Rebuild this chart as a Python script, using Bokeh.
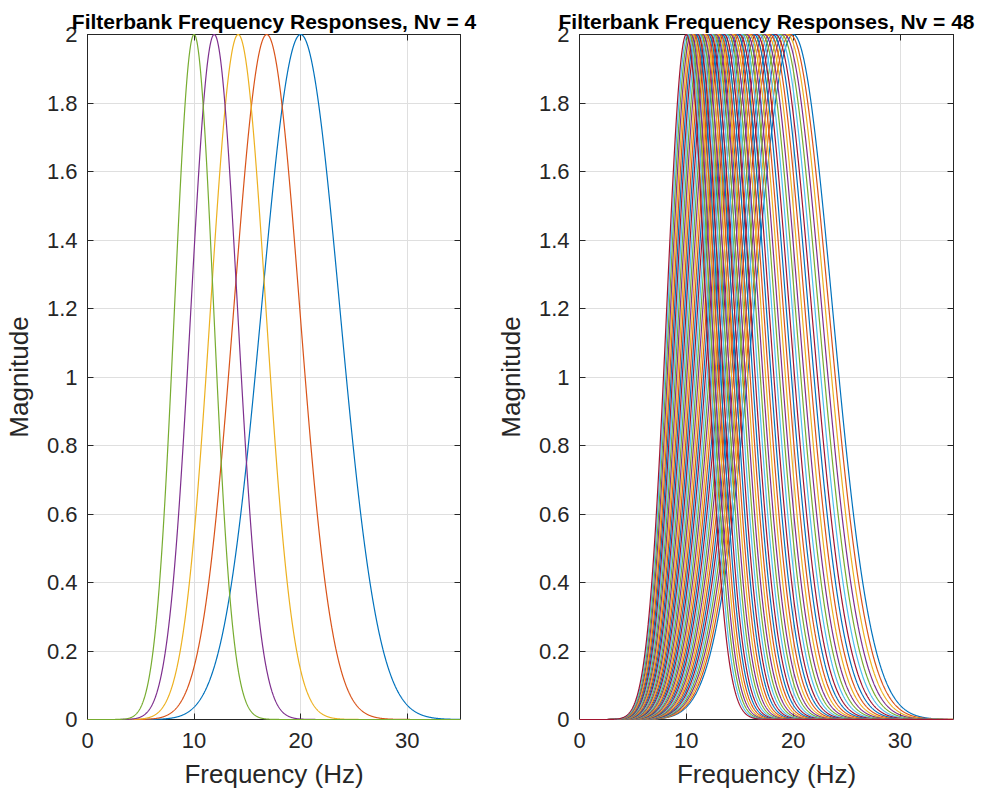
import numpy as np
from bokeh.plotting import figure
from bokeh.layouts import row
from bokeh.models import LinearAxis, FixedTicker, Range1d, NumeralTickFormatter
from bokeh.embed import file_html
from bokeh.resources import INLINE

# Filter centre frequencies (Hz), highest first, one octave 10-20 Hz
centers_nv4 = [20.0, 16.82, 14.14, 11.89, 10.0]
centers_nv48 = [
    20.000, 19.713, 19.430, 19.151, 18.877, 18.606, 18.340, 18.077, 17.818, 17.562,
    17.310, 17.062, 16.818, 16.577, 16.339, 16.105, 15.874, 15.646, 15.422, 15.201,
    14.983, 14.768, 14.557, 14.348, 14.142, 13.939, 13.740, 13.543, 13.348, 13.157,
    12.968, 12.783, 12.599, 12.419, 12.241, 12.065, 11.892, 11.722, 11.554, 11.388,
    11.225, 11.064, 10.905, 10.749, 10.595, 10.443, 10.293, 10.145, 10.000,
]
voices = [4, 48]

line_colors = ["#0072BD", "#D95319", "#EDB120", "#7E2F8E", "#77AC30", "#4DBEEE", "#A2142F"]
x_ticks = [0, 10, 20, 30]
y_ticks = [0, 0.2, 0.4, 0.6, 0.8, 1, 1.2, 1.4, 1.6, 1.8, 2]

# Morse wavelet parameters (symmetry gamma, time-bandwidth P^2 = 30)
GAMMA = 3
BETA = 10
freq = np.linspace(0, 35, 1401)


def morse_response(f, fc):
    r = f / fc
    return 2.0 * r ** BETA * np.exp(BETA / GAMMA * (1.0 - r ** GAMMA))


FONT = "Liberation Sans"
INK = "#262626"
GRID = "#DFDFDF"


def panel(centers, nv, width, left, right):
    p = figure(width=width, height=796, output_backend="svg", toolbar_location=None,
               x_range=Range1d(0, 35), y_range=Range1d(0, 2),
               min_border_left=left, min_border_right=right,
               min_border_top=34, min_border_bottom=77,
               background_fill_color="white", border_fill_color="white")
    p.title.text = f"Filterbank Frequency Responses, Nv = {nv}"
    p.title.text_font = FONT
    p.title.text_font_size = "21px"
    p.title.text_font_style = "bold"
    p.title.text_color = "#000000"
    p.title.align = "center"
    p.title.standoff = 3

    for k, fc in enumerate(centers):
        p.line(freq, morse_response(freq, fc), line_color=line_colors[k % 7],
               line_width=1.2, level="overlay")

    p.xaxis.ticker = FixedTicker(ticks=x_ticks)
    p.yaxis.ticker = FixedTicker(ticks=y_ticks)
    p.yaxis.formatter = NumeralTickFormatter(format="0.[0]")
    p.xgrid.ticker = FixedTicker(ticks=x_ticks)
    p.ygrid.ticker = FixedTicker(ticks=y_ticks)
    p.grid.grid_line_color = GRID
    p.grid.grid_line_width = 1

    for ax in (p.xaxis[0], p.yaxis[0]):
        ax.axis_line_color = INK
        ax.major_tick_line_color = INK
        ax.major_tick_in = 6
        ax.major_tick_out = 0
        ax.minor_tick_line_color = None
        ax.major_label_text_font = FONT
        ax.major_label_text_font_size = "22px"
        ax.major_label_text_color = INK
        ax.axis_label_text_font = FONT
        ax.axis_label_text_font_size = "26px"
        ax.axis_label_text_font_style = "normal"
        ax.axis_label_text_color = INK
    p.xaxis.axis_label = "Frequency (Hz)"
    p.yaxis.axis_label = "Magnitude"
    p.xaxis.major_label_standoff = 13
    p.yaxis.major_label_standoff = 10
    p.xaxis.axis_label_standoff = 8
    p.yaxis.axis_label_standoff = 10

    # box ticks on the opposite sides, no labels
    top = LinearAxis(ticker=FixedTicker(ticks=x_ticks), major_tick_in=6, major_tick_out=0,
                     minor_tick_line_color=None, major_label_text_color=None,
                     axis_line_color=INK, major_tick_line_color=INK)
    rgt = LinearAxis(ticker=FixedTicker(ticks=y_ticks), major_tick_in=6, major_tick_out=0,
                     minor_tick_line_color=None, major_label_text_color=None,
                     axis_line_color=INK, major_tick_line_color=INK)
    p.add_layout(top, "above")
    p.add_layout(rgt, "right")
    p.outline_line_color = INK
    return p


p1 = panel(centers_nv4, voices[0], 490, 86, 30)
p2 = panel(centers_nv48, voices[1], 491, 89, 28)
p = row(p1, p2)

open("out.html", "w").write(file_html(p, INLINE))
